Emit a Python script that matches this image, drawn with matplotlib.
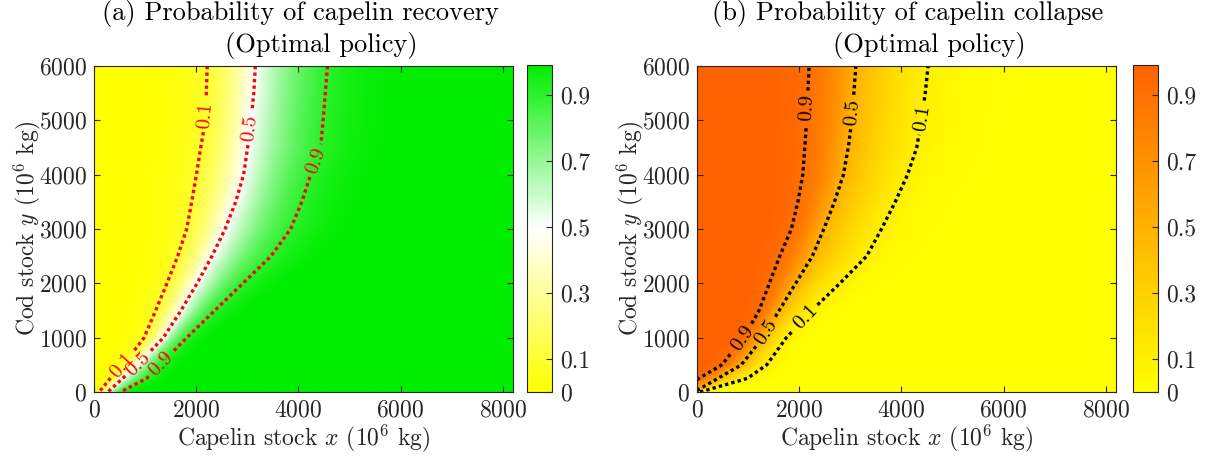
import numpy as np
import matplotlib
matplotlib.use('Agg')
import matplotlib.pyplot as plt
from matplotlib.colors import LinearSegmentedColormap

plt.rcParams['font.family'] = 'cmr10'
plt.rcParams['mathtext.fontset'] = 'cm'
plt.rcParams['axes.formatter.use_mathtext'] = True

# -- data: x position (10^6 kg) of each contour at given cod stock levels
y_levels = [0, 250, 500, 1000, 1500, 2000, 2500, 3000, 3500, 4000, 4500, 5000, 5500, 6000]

# (a) recovery
rec_p10 = [100, 317, 570, 980, 1207, 1428, 1638, 1813, 1912, 2005, 2089, 2180, 2198, 2216]
rec_p50 = [270, 558, 851, 1357, 1702, 2016, 2307, 2565, 2772, 2927, 3006, 3070, 3126, 3157]
rec_p90 = [520, 1029, 1290, 1816, 2365, 2914, 3463, 3847, 4067, 4240, 4435, 4484, 4527, 4569]

# (b) collapse
col_p90 = [-400, 40, 485, 913, 1214, 1416, 1619, 1847, 1975, 2070, 2110, 2145, 2169, 2194]
col_p50 = [-50, 406, 866, 1289, 1606, 1931, 2256, 2481, 2689, 2864, 2959, 3028, 3068, 3107]
col_p10 = [60, 984, 1365, 1749, 2243, 2796, 3320, 3610, 3880, 4120, 4300, 4392, 4466, 4524]

contour_levels = [0.1, 0.5, 0.9]
cbar_ticks = [0, 0.1, 0.3, 0.5, 0.7, 0.9]
cbar_labels = ['0', '0.1', '0.3', '0.5', '0.7', '0.9']
x_ticks = [0, 2000, 4000, 6000, 8000]
y_ticks = [0, 1000, 2000, 3000, 4000, 5000, 6000]

# label spots (data coords)
rec_label_pos = [(2140, 5100), (510, 530), (3060, 4860), (840, 530), (4300, 4270), (1290, 530)]
col_label_pos = [(2155, 5230), (930, 960), (3070, 5150), (1380, 1100), (4465, 5040), (2140, 1360)]

XMAX = 8200
YMAX = 6000


def prob_field(xg, yg, xc_list, pc):
    # smooth probability surface passing through the read contours
    L = np.log(np.array(pc) / (1 - np.array(pc)))
    P = np.empty((len(yg), len(xg)))
    for j, y in enumerate(yg):
        xs = np.array([np.interp(y, y_levels, xc) for xc in xc_list])
        lx = np.interp(xg, xs, L)
        left = xg < xs[0]
        right = xg > xs[-1]
        lx[left] = L[0] + (xg[left] - xs[0]) * (L[1] - L[0]) / (xs[1] - xs[0])
        lx[right] = L[-1] + (xg[right] - xs[-1]) * (L[-1] - L[-2]) / (xs[-1] - xs[-2])
        P[j] = 1 / (1 + np.exp(-lx))
    return P


xg = np.linspace(0, XMAX, 500)
yg = np.linspace(0, YMAX, 400)

P_rec = prob_field(xg, yg, [rec_p10, rec_p50, rec_p90], [0.1, 0.5, 0.9])
P_col = prob_field(xg, yg, [col_p90, col_p50, col_p10], [0.9, 0.5, 0.1])

cmap_rec = LinearSegmentedColormap.from_list('rec', ['#ffff00', '#ffffff', '#00ee00'])
cmap_col = LinearSegmentedColormap.from_list('col', ['#ffff00', '#ffb300', '#ff6200'])

W, H = 1209, 457
fig = plt.figure(figsize=(W / 100, H / 100), dpi=100)

dark = '0.15'
fs = 17


def draw_panel(ax_left, cb_left, P, cmap, lcolor, label_pos, line1, line2, t1_left, t2_left):
    ax = fig.add_axes([ax_left / W, 65 / H, 419 / W, 326 / H])
    cax = fig.add_axes([cb_left / W, 65 / H, 25 / W, 327 / H])

    im = ax.imshow(P, origin='lower', extent=[0, XMAX, 0, YMAX], aspect='auto',
                   cmap=cmap, vmin=0, vmax=0.99, interpolation='bilinear')
    cs = ax.contour(xg, yg, P, levels=contour_levels, colors=lcolor, linewidths=2.4)
    cs.set_linestyle((0, (1, 0.95)))
    ax.clabel(cs, fmt='%.1f', manual=label_pos, inline=True, fontsize=15, inline_spacing=4)

    ax.set_xlim(0, XMAX)
    ax.set_ylim(0, YMAX)
    ax.set_xticks(x_ticks)
    ax.set_yticks(y_ticks)
    ax.tick_params(direction='in', top=True, right=True, length=4, width=0.8,
                   labelsize=fs, color=dark, labelcolor=dark, pad=5)
    for s in ax.spines.values():
        s.set_color(dark)
        s.set_linewidth(0.8)

    ax.set_xlabel(r'Capelin stock $x$ ($10^6$ kg)', fontsize=fs, color=dark)
    ax.xaxis.set_label_coords(0.5, -0.095)
    ax.set_ylabel(r'Cod stock $y$ ($10^6$ kg)', fontsize=fs, color=dark)
    ax.yaxis.set_label_coords(-0.122, 0.5)

    cb = fig.colorbar(im, cax=cax, ticks=cbar_ticks)
    cb.set_ticklabels(cbar_labels)
    cax.tick_params(direction='in', length=4, width=0.8, labelsize=fs,
                    color=dark, labelcolor=dark, pad=6)
    cb.outline.set_edgecolor(dark)
    cb.outline.set_linewidth(0.8)

    fig.text(t1_left / W, 1 - 20 / H, line1, fontsize=19, ha='left', va='baseline', color='black')
    fig.text(t2_left / W, 1 - 52 / H, line2, fontsize=19, ha='left', va='baseline', color='black')
    return ax


draw_panel(94, 527, P_rec, cmap_rec, 'red', rec_label_pos,
           '(a) Probability of capelin recovery', '(Optimal policy)', 102, 225)
draw_panel(697, 1133, P_col, cmap_col, 'black', col_label_pos,
           '(b) Probability of capelin collapse', '(Optimal policy)', 712, 833)

fig.savefig('out.png', dpi=100)
